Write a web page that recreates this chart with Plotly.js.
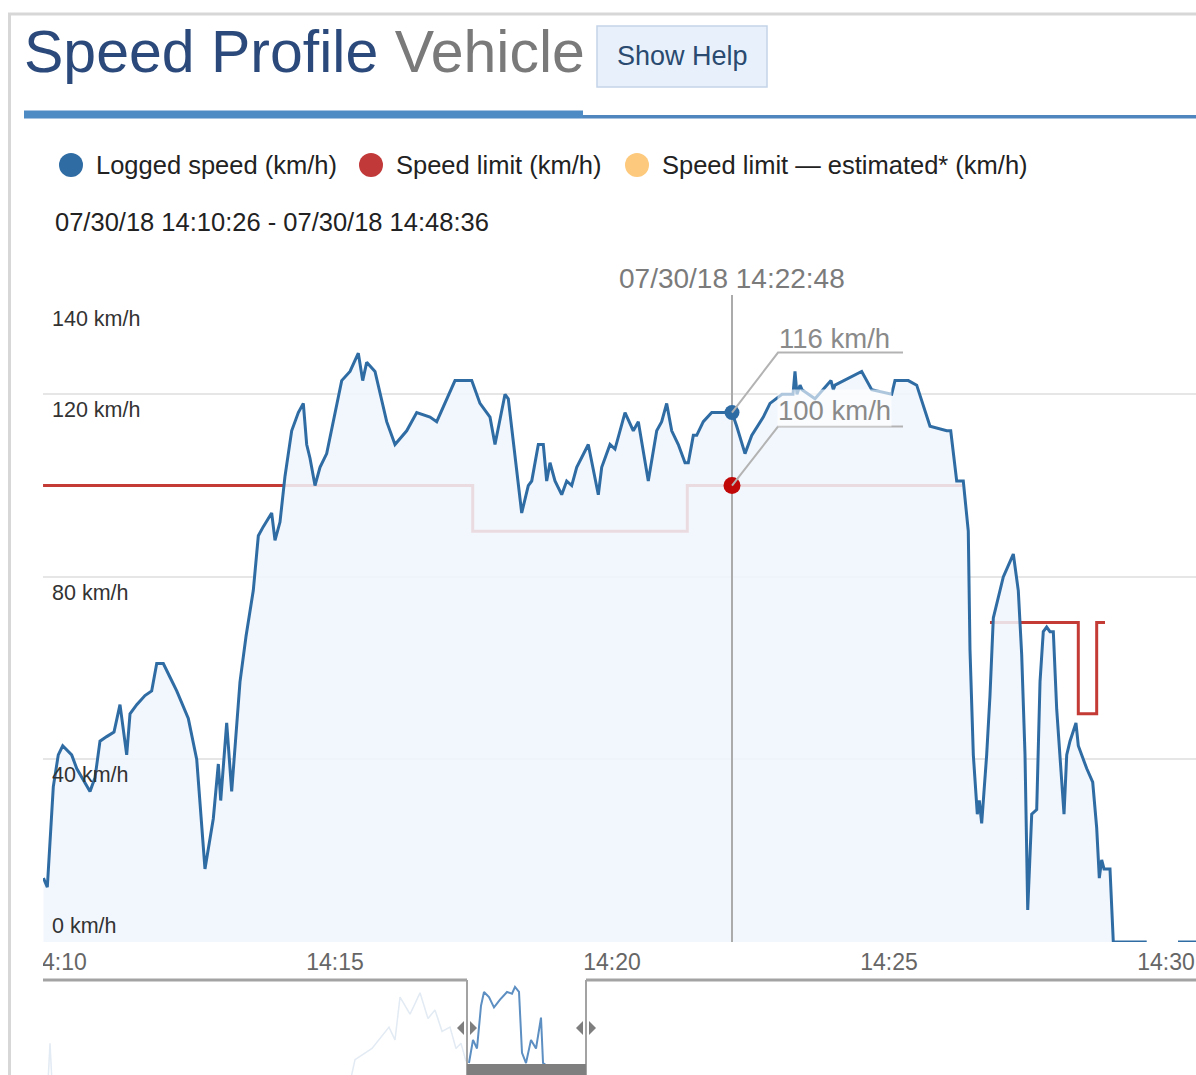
<!DOCTYPE html>
<html>
<head>
<meta charset="utf-8">
<script src="https://cdn.plot.ly/plotly-3.0.1.min.js"></script>
<style>
  html, body { margin: 0; padding: 0; background: #ffffff; }
  #chart { width: 1196px; height: 1075px; }
</style>
</head>
<body>
<div id="chart"></div>
<script>
// ---------------- DATA ----------------
// x values: minutes after 14:00 on 07/30/18 ; y values: km/h
const loggedMinutes = [
  9.738, 9.807, 9.915, 10.005, 10.085, 10.247, 10.338, 10.487, 10.578, 10.668,
  10.758, 10.879, 11.011, 11.119, 11.240, 11.300, 11.421, 11.570, 11.691, 11.782,
  11.901, 12.022, 12.143, 12.352, 12.504, 12.653, 12.803, 12.894, 12.937, 13.045,
  13.135, 13.285, 13.394, 13.525, 13.616, 13.706, 13.857, 13.917, 14.007, 14.097,
  14.218, 14.338, 14.428, 14.489, 14.549, 14.639, 14.729, 14.850, 15.000, 15.121,
  15.271, 15.421, 15.500, 15.572, 15.722, 15.812, 15.933, 16.083, 16.294, 16.475,
  16.715, 16.836, 16.986, 17.166, 17.468, 17.617, 17.798, 17.888, 18.069, 18.128,
  18.370, 18.489, 18.551, 18.670, 18.760, 18.821, 18.881, 18.971, 19.092, 19.182,
  19.273, 19.363, 19.572, 19.753, 19.814, 19.964, 20.054, 20.235, 20.385, 20.475,
  20.655, 20.807, 20.897, 20.987, 21.078, 21.197, 21.318, 21.377, 21.468, 21.529,
  21.648, 21.800, 22.009, 22.166, 22.251, 22.401, 22.522, 22.731, 22.852, 23.069,
  23.267, 23.303, 23.339, 23.394, 23.430, 23.664, 23.953, 23.995, 24.025, 24.507,
  24.688, 25.049, 25.108, 25.348, 25.500, 25.740, 26.042, 26.114, 26.222, 26.341,
  26.431, 26.462, 26.522, 26.594, 26.630, 26.673, 26.763, 26.823, 26.883, 27.063,
  27.244, 27.334, 27.395, 27.455, 27.504, 27.576, 27.666, 27.726, 27.785, 27.846,
  27.906, 27.966, 28.027, 28.087, 28.159, 28.208, 28.267, 28.375, 28.417, 28.569,
  28.677, 28.749, 28.796, 28.839, 28.881, 28.989, 29.049, 29.652, null, 30.217,
  30.600
];
const loggedSpeed = [
  14, 12, 34, 41, 43, 41, 38, 35, 33, 36,
  44, 45, 46, 52, 41, 50, 52, 54, 55, 61,
  61, 58, 55, 49, 40, 16, 27, 39, 31, 48,
  33, 57, 67, 77, 89, 91, 94, 88, 92, 102,
  112, 116, 118, 109, 106, 100, 104, 107, 116, 123,
  125, 129, 123, 127, 125, 120, 114, 109, 112, 116,
  115, 114, 118, 123, 123, 118, 115, 109, 120, 119,
  94, 100, 101, 109, 109, 101, 105, 101, 98, 101,
  100, 104, 109, 98, 104, 109, 108, 116, 112, 114,
  101, 112, 114, 118, 112, 109, 105, 105, 111, 111,
  114, 116, 116, 116, 113, 107, 111, 115, 118, 120,
  120, 125, 120, 122, 121, 119, 123, 121, 122, 125,
  121, 120, 123, 123, 122, 113, 112, 112, 101, 101,
  90, 64, 41, 28, 31, 26, 41, 54, 71, 80,
  85, 77, 63, 41, 7, 28, 29, 57, 68, 69,
  68, 68, 51, 40, 28, 41, 44, 48, 43, 38,
  35, 25, 14, 18, 16, 16, 0, 0, null, 0,
  0
];

const limitMinutes = [9.73, 17.486, 21.359, 26.318, null, 26.823, 28.417, 28.749, 28.899];
const limitSpeed   = [100, 90, 100, 100, null, 70, 50, 70, 70];

// selected point (crosshair)
const crossIndex = 103;            // index into loggedMinutes / loggedSpeed
const crossLimit = 100;            // speed limit at that time
const crossLabel = "07/30/18 14:22:48";
const crossLoggedText = "116 km/h";
const crossLimitText = "100 km/h";

const xTickVals = [10, 15, 20, 25, 30];
const xTickText = ["14:10", "14:15", "14:20", "14:25", "14:30"];
const yTickVals = [0, 40, 80, 120, 140];
const yTickText = ["0 km/h", "40 km/h", "80 km/h", "120 km/h", "140 km/h"];

const legendNames = ["Logged speed (km/h)", "Speed limit (km/h)", "Speed limit \u2014 estimated* (km/h)"];
const dateRangeText = "07/30/18 14:10:26 - 07/30/18 14:48:36";

// navigator (overview of whole trip)
const navMinutesFaint = [10.598, 10.665, 10.731, null, 20.595, 20.761, 21.324, 21.886, 22.085, 22.251,
  22.582, 22.913, 23.177, 23.409, 23.641, 23.906, 24.104, 24.270, 24.435];
const navSpeedFaint = [20, 66, 20, null, 20, 47, 60, 85, 70, 120,
  100, 125, 95, 105, 80, 85, 60, 66, 45];
const navMinutesSel = [24.534, 24.667, 24.799, 24.932, 25.031, 25.196, 25.362, 25.561, 25.793, 25.958,
  26.057, 26.190, 26.289, 26.422, 26.587, 26.753, 26.918, 26.985, 27.183];
const navSpeedSel = [43, 70, 60, 110, 126, 120, 108, 117, 126, 124,
  132, 126, 55, 43, 70, 60, 96, 43, 38];
const navRange = [10.433, 48.6];
const navSelection = [24.468, 28.407];

// ---------------- LAYOUT HELPERS ----------------
const FIG_W = 1196, FIG_H = 1075;
const L = 43, R = 1196, T = 303;
const PW = R - L, PH = FIG_H - T;
const PX = px => (px - L) / PW;          // pixel -> paper x
const PY = py => (FIG_H - py) / PH;      // pixel -> paper y
const dX = px => 10 + (px - 58) / 55.4;  // pixel -> x data (minutes)
const dY = py => (942 - py) / 4.5607;    // pixel -> y data (km/h)

const FONT = "Liberation Sans, Arial, Helvetica, sans-serif";
const BLUE = "#2f6ca4";
const RED = "#c43b36";
const ORANGE = "#fdc97c";

const crossX = loggedMinutes[crossIndex];
const crossY = loggedSpeed[crossIndex];

// ---------------- TRACES ----------------
const traces = [
  { // navigator faint part
    x: navMinutesFaint, y: navSpeedFaint, xaxis: "x2", yaxis: "y2",
    type: "scatter", mode: "lines", hoverinfo: "skip",
    line: { color: "rgba(110,150,195,0.2)", width: 1.5 }
  },
  { // navigator selected part
    x: navMinutesSel, y: navSpeedSel, xaxis: "x2", yaxis: "y2",
    type: "scatter", mode: "lines", hoverinfo: "skip",
    line: { color: "#5d8fc2", width: 2 }
  },
  { // speed limit
    x: limitMinutes, y: limitSpeed, type: "scatter", mode: "lines",
    line: { color: RED, width: 3, shape: "hv" }, connectgaps: false, hoverinfo: "skip"
  },
  { // logged speed with area
    x: loggedMinutes, y: loggedSpeed, type: "scatter", mode: "lines",
    fill: "tozeroy", fillcolor: "rgba(240,246,253,0.86)",
    line: { color: BLUE, width: 3 }, connectgaps: false, hoverinfo: "skip"
  },
  { // crosshair
    x: [crossX, crossX], y: [0, 140], type: "scatter", mode: "lines",
    line: { color: "#ababab", width: 2 }, hoverinfo: "skip"
  },
  { // selected points
    x: [crossX, crossX], y: [crossY, crossLimit], type: "scatter", mode: "markers",
    marker: { color: [BLUE, "#c00808"], size: [15, 17], opacity: 1, line: { width: 0 } },
    hoverinfo: "skip"
  }
];

// ---------------- SHAPES ----------------
const shapes = [];
// outer frame
shapes.push({ type: "line", xref: "paper", yref: "paper", x0: PX(8), x1: PX(1205), y0: PY(14), y1: PY(14),
  line: { color: "#d7d7d7", width: 3 }, layer: "above" });
shapes.push({ type: "line", xref: "paper", yref: "paper", x0: PX(9.5), x1: PX(9.5), y0: PY(13), y1: PY(1085),
  line: { color: "#d7d7d7", width: 3 }, layer: "above" });
// Show Help button
shapes.push({ type: "rect", xref: "paper", yref: "paper", x0: PX(597), x1: PX(767), y0: PY(87), y1: PY(26),
  fillcolor: "#e8f1fb", line: { color: "#c3d4e9", width: 1.5 }, layer: "above" });
// title rule
shapes.push({ type: "rect", xref: "paper", yref: "paper", x0: PX(24), x1: PX(583), y0: PY(118.5), y1: PY(110.5),
  fillcolor: "#4e8ac3", line: { width: 0 }, layer: "above" });
shapes.push({ type: "rect", xref: "paper", yref: "paper", x0: PX(583), x1: PX(1200), y0: PY(118.5), y1: PY(115),
  fillcolor: "#4f86bd", line: { width: 0 }, layer: "above" });
// legend dots
[[71, BLUE], [371, "#c2393a"], [637, ORANGE]].forEach(([cx, col]) => {
  shapes.push({ type: "circle", xref: "paper", yref: "paper",
    x0: PX(cx - 12), x1: PX(cx + 12), y0: PY(177), y1: PY(153),
    fillcolor: col, line: { width: 0 }, layer: "above" });
});
// crosshair extension above plot top
shapes.push({ type: "line", xref: "x", yref: "paper", x0: crossX, x1: crossX, y0: 1, y1: PY(295),
  line: { color: "#ababab", width: 2 }, layer: "above" });
// callout connectors
shapes.push({ type: "path", xref: "x", yref: "y", layer: "above",
  path: `M ${crossX},${crossY} L ${dX(778)},${dY(353)} L ${dX(903)},${dY(353)}`,
  line: { color: "#b3b3b3", width: 2 } });
shapes.push({ type: "path", xref: "x", yref: "y", layer: "above",
  path: `M ${crossX},${crossLimit} L ${dX(778)},${dY(427)} L ${dX(903)},${dY(427)}`,
  line: { color: "#b3b3b3", width: 2 } });
// clip the first tick label at plot's left edge
shapes.push({ type: "rect", xref: "paper", yref: "paper", x0: PX(14), x1: PX(43), y0: PY(990), y1: PY(944),
  fillcolor: "#ffffff", line: { width: 0 }, layer: "above" });
// navigator outline
const navTop = PY(980);
shapes.push({ type: "line", xref: "x2", yref: "paper", x0: navRange[0], x1: navSelection[0], y0: navTop, y1: navTop,
  line: { color: "#a3a3a3", width: 3 }, layer: "above" });
shapes.push({ type: "line", xref: "x2", yref: "paper", x0: navSelection[1], x1: navRange[1], y0: navTop, y1: navTop,
  line: { color: "#a3a3a3", width: 3 }, layer: "above" });
navSelection.forEach(xv => {
  shapes.push({ type: "line", xref: "x2", yref: "paper", x0: xv, x1: xv, y0: navTop, y1: -0.02,
    line: { color: "#a3a3a3", width: 2 }, layer: "above" });
  // handles
  shapes.push({ type: "path", xref: "x2", yref: "paper", xsizemode: "pixel", ysizemode: "pixel",
    xanchor: xv, yanchor: PY(1028), path: "M -3,-7 L -3,7 L -10,0 Z",
    fillcolor: "#7e7e7e", line: { width: 0 }, layer: "above" });
  shapes.push({ type: "path", xref: "x2", yref: "paper", xsizemode: "pixel", ysizemode: "pixel",
    xanchor: xv, yanchor: PY(1028), path: "M 3,-7 L 3,7 L 10,0 Z",
    fillcolor: "#7e7e7e", line: { width: 0 }, layer: "above" });
});
// scrollbar thumb
shapes.push({ type: "rect", xref: "x2", yref: "paper", x0: navSelection[0], x1: navSelection[1], y0: 0, y1: PY(1064),
  fillcolor: "#7f7f7f", line: { width: 0 }, layer: "above" });

// ---------------- ANNOTATIONS ----------------
const annotations = [];
annotations.push({ xref: "paper", yref: "paper", x: PX(22), y: PY(52), xanchor: "left", yanchor: "middle",
  showarrow: false,
  text: "<span style='color:#2b4a7b'>Speed Profile</span> <span style='color:#7a7a7a'>Vehicle</span>",
  font: { family: FONT, size: 59 } });
annotations.push({ xref: "paper", yref: "paper", x: PX(682), y: PY(56), xanchor: "center", yanchor: "middle",
  showarrow: false, text: "Show Help", font: { family: FONT, size: 27, color: "#2a4a70" } });
[[96, 0], [396, 1], [662, 2]].forEach(([lx, i]) => {
  annotations.push({ xref: "paper", yref: "paper", x: PX(lx - 2), y: PY(165), xanchor: "left", yanchor: "middle",
    showarrow: false, text: legendNames[i], font: { family: FONT, size: 25.5, color: "#222222" } });
});
annotations.push({ xref: "paper", yref: "paper", x: PX(53), y: PY(222), xanchor: "left", yanchor: "middle",
  showarrow: false, text: dateRangeText, font: { family: FONT, size: 25.5, color: "#222222" } });
annotations.push({ xref: "x", yref: "paper", x: crossX, y: PY(279), xanchor: "center", yanchor: "middle",
  showarrow: false, text: crossLabel, font: { family: FONT, size: 28, color: "#7b7b7b" } });
annotations.push({ xref: "x", yref: "y", x: dX(777), y: dY(339), xanchor: "left", yanchor: "middle",
  showarrow: false, text: crossLoggedText, font: { family: FONT, size: 27.5, color: "#8a8a8a" } });
annotations.push({ xref: "x", yref: "y", x: dX(777), y: dY(408), xanchor: "left", yanchor: "middle",
  showarrow: false, text: crossLimitText, bgcolor: "rgba(255,255,255,0.62)", borderpad: 0,
  height: 36, valign: "bottom",
  font: { family: FONT, size: 27.5, color: "#8a8a8a" } });
yTickVals.forEach((v, i) => {
  annotations.push({ xref: "paper", yref: "y", x: PX(50), y: v, xanchor: "left", yanchor: "middle",
    yshift: v === 0 ? 16 : -16, showarrow: false, text: yTickText[i],
    font: { family: FONT, size: 21.5, color: "#333333" } });
});

// ---------------- LAYOUT ----------------
const layout = {
  width: FIG_W, height: FIG_H,
  margin: { l: L, r: FIG_W - R, t: T, b: 0, pad: 0 },
  paper_bgcolor: "#ffffff", plot_bgcolor: "rgba(0,0,0,0)",
  showlegend: false, hovermode: false,
  font: { family: FONT },
  xaxis: {
    domain: [0, 1], anchor: "y", range: [dX(L), dX(R)],
    tickmode: "array", tickvals: xTickVals, ticktext: xTickText,
    showgrid: false, zeroline: false, showline: false, ticks: "",
    tickfont: { family: FONT, size: 23, color: "#666666" }, ticklabelstandoff: 4,
    fixedrange: true
  },
  yaxis: {
    domain: [PY(942), 1], anchor: "x", range: [0, 140],
    tickmode: "array", tickvals: yTickVals, showticklabels: false,
    showgrid: true, gridcolor: "#e6e6e6", gridwidth: 2,
    zeroline: false, showline: false, ticks: "", fixedrange: true
  },
  xaxis2: { domain: [0, 1], anchor: "y2", range: navRange, visible: false, fixedrange: true },
  yaxis2: { domain: [0, PY(980)], anchor: "x2", range: [29, 140], visible: false, fixedrange: true },
  shapes: shapes,
  annotations: annotations
};

Plotly.newPlot("chart", traces, layout, { displayModeBar: false, staticPlot: true });
</script>
</body>
</html>
